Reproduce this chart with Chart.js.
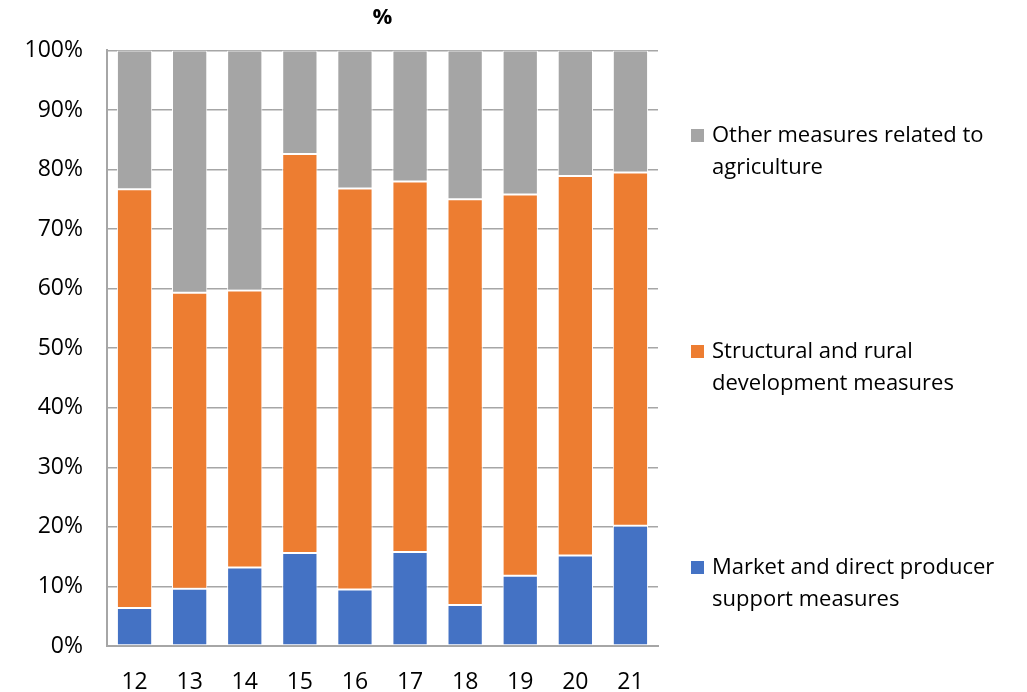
<!DOCTYPE html>
<html>
<head>
<meta charset="utf-8">
<style>
  html, body { margin: 0; padding: 0; background: #ffffff; }
  #wrap { position: relative; width: 1027px; height: 692px; }
</style>
<script src="https://cdn.jsdelivr.net/npm/chart.js@4/dist/chart.umd.min.js"></script>
</head>
<body>
<div id="wrap"><canvas id="chart" width="1027" height="692"></canvas></div>
<script>
// Years (20xx) on the category axis
const years = ['12', '13', '14', '15', '16', '17', '18', '19', '20', '21'];

// Share of total support, in percent
const marketSupport = [6.4, 9.6, 13.2, 15.6, 9.5, 15.8, 6.9, 11.8, 15.2, 20.2];
const structuralRural = [70.3, 49.7, 46.5, 67.0, 67.3, 62.2, 68.1, 64.0, 63.7, 59.3];
const otherMeasures = [23.3, 40.7, 40.3, 17.4, 23.2, 22.0, 25.0, 24.2, 21.1, 20.5];

const seriesNames = [
  ['Market and direct producer', 'support measures'],
  ['Structural and rural', 'development measures'],
  ['Other measures related to', 'agriculture']
];
const yTicks = [0, 10, 20, 30, 40, 50, 60, 70, 80, 90, 100];

const FONT = "'Open Sans', 'Liberation Sans', sans-serif";
const colors = ['#4472C4', '#ED7D31', '#A5A5A5'];

// Legend drawn at the right of the plot, each entry wrapped on two lines
const sideLegend = {
  id: 'sideLegend',
  afterDraw(chart) {
    const ctx = chart.ctx;
    const firstLine = [568, 352, 136];
    ctx.save();
    ctx.font = '22px ' + FONT;
    ctx.textBaseline = 'middle';
    ctx.textAlign = 'left';
    chart.data.datasets.forEach((ds, i) => {
      const y = firstLine[i];
      const lines = seriesNames[i];
      ctx.fillStyle = ds.backgroundColor;
      ctx.fillRect(691, y - 7, 13, 13);
      ctx.fillStyle = '#000000';
      ctx.fillText(lines[0], 712, y);
      ctx.fillText(lines[1], 712, y + 32);
    });
    ctx.restore();
  }
};

new Chart(document.getElementById('chart'), {
  type: 'bar',
  data: {
    labels: years,
    datasets: [
      { label: seriesNames[0].join(' '), data: marketSupport, backgroundColor: colors[0] },
      { label: seriesNames[1].join(' '), data: structuralRural, backgroundColor: colors[1] },
      { label: seriesNames[2].join(' '), data: otherMeasures, backgroundColor: colors[2] }
    ].map(d => Object.assign(d, {
      borderColor: '#ffffff',
      borderWidth: 1,
      borderSkipped: false,
      categoryPercentage: 1,
      barPercentage: 0.64
    }))
  },
  options: {
    responsive: false,
    animation: false,
    layout: { padding: { top: 5, right: 369, bottom: 0, left: 0 } },
    plugins: {
      legend: { display: false },
      tooltip: { enabled: false },
      title: {
        display: true,
        fullSize: false,
        text: '%',
        color: '#000000',
        font: { family: FONT, size: 22, weight: 'bold', lineHeight: 1.2 },
        padding: { top: 0, bottom: 19 }
      }
    },
    scales: {
      x: {
        stacked: true,
        afterFit(axis) { axis.height = 46; },
        grid: { display: false, drawTicks: false },
        border: { display: true, color: '#a6a6a6', width: 2 },
        ticks: {
          color: '#000000',
          font: { family: FONT, size: 23 },
          padding: 23
        }
      },
      y: {
        stacked: true,
        min: 0,
        max: 100,
        afterBuildTicks(axis) { axis.ticks = yTicks.map(v => ({ value: v })); },
        afterFit(axis) { axis.width = 107; },
        grid: { color: '#a6a6a6', lineWidth: 1.5, drawTicks: false },
        border: { display: true, color: '#a6a6a6', width: 2 },
        ticks: {
          color: '#000000',
          font: { family: FONT, size: 23 },
          padding: 24,
          callback: v => v + '%'
        }
      }
    }
  },
  plugins: [sideLegend]
});
</script>
</body>
</html>
